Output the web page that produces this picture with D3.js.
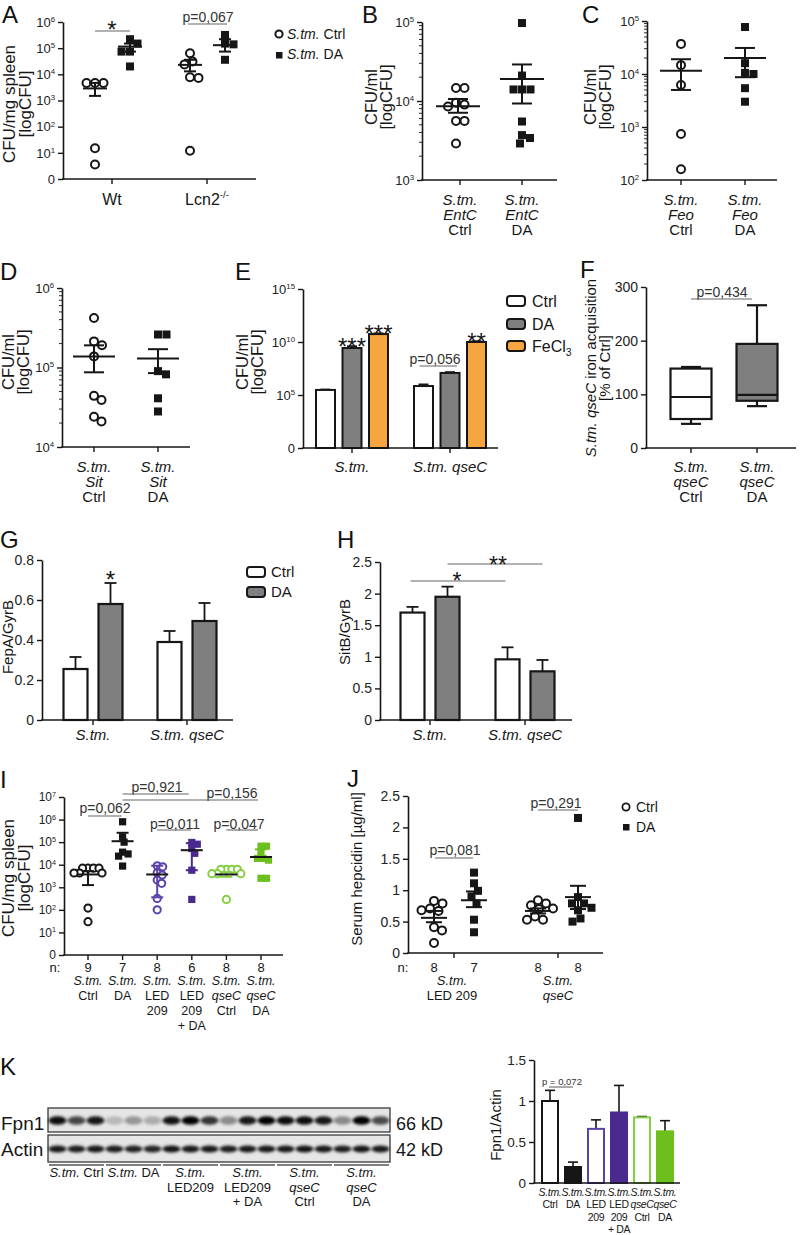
<!DOCTYPE html>
<html><head><meta charset="utf-8">
<script src="https://cdn.jsdelivr.net/npm/d3@7"></script>
<style>html,body{margin:0;padding:0;background:#fff}svg{display:block}</style>
</head><body>
<svg id="chart" width="800" height="1235" font-family="Liberation Sans, Arial, Helvetica, sans-serif"></svg>
<script>
// ===================== DATA =====================
// A
const aCats = ["Wt", "Lcn2"];
const aCtrl = [[4700, 4700, 4700, 15, 3.6], [64000, 31000, 24000, 7700, 7300, 12]];
const aDA = [[220000, 150000, 74000, 74000, 20000], [320000, 150000, 140000, 36000]];
const aCtrlStat = [[2900, 1500, 4700], [23000, 13000, 36000]]; // mean, low, high
const aDAStat = [[115000, 74000, 150000], [130000, 74000, 220000]];
// B
const bCats = ["Ctrl", "DA"];
const bCtrl = [14600, 14600, 9500, 9000, 8500, 5600, 5600, 2900];
const bDA = [97000, 21000, 14000, 14000, 14000, 5500, 3700, 3400, 2900];
const bStat = [[8600, 7100, 10600], [19000, 9300, 29000]];
// C
const cCats = ["Ctrl", "DA"];
const cCtrl = [37000, 14700, 6200, 740, 160];
const cDA = [77000, 16000, 10500, 10000, 5400, 3000];
const cStat = [[11500, 5000, 19000], [20000, 8700, 31000]];
// D
const dCats = ["Ctrl", "DA"];
const dCtrl = [420000, 213000, 190000, 138000, 44000, 39000, 24000, 21000];
const dDA = [260000, 260000, 90000, 82000, 41000, 28000];
const dStat = [[138000, 87000, 190000], [130000, 85000, 170000]];
// E
const eGroups = ["S.tm.", "S.tm. qseC"];
const eSeries = ["Ctrl", "DA", "FeCl3"];
const eVals = [[3e5, 2.7e9, 5.6e10], [7e5, 1.2e7, 1e10]];
const eErrTop = [[3.3e5, 4e9, 6.5e10], [1e6, 1.45e7, 1.2e10]];
const eStars = [["", "***", "***"], ["", "", "**"]];
// F  (min, q1, median, q3, max)
const fCats = ["Ctrl", "DA"];
const fBox = [[45, 54, 95, 148, 151], [78, 88, 99, 194, 266]];
// G
const gGroups = ["S.tm.", "S.tm. qseC"];
const gSeries = ["Ctrl", "DA"];
const gVals = [[0.255, 0.58], [0.39, 0.495]];
const gSem = [[0.06, 0.105], [0.055, 0.09]];
// H
const hVals = [[1.7, 1.95], [0.96, 0.77]];
const hSem = [[0.09, 0.16], [0.19, 0.18]];
// I
const iCats = ["Ctrl", "DA", "LED", "LED+DA", "qseC Ctrl", "qseC DA"];
const iN = [9, 7, 8, 6, 8, 8];
const iLabels = [
  [[["S.tm.", "i"]], ["Ctrl"]],
  [[["S.tm.", "i"]], ["DA"]],
  [[["S.tm.", "i"]], ["LED"], ["209"]],
  [[["S.tm.", "i"]], ["LED"], ["209"], ["+ DA"]],
  [[["S.tm.", "i"]], [["qseC", "i"]], ["Ctrl"]],
  [[["S.tm.", "i"]], [["qseC", "i"]], ["DA"]]
];
const iVals = [
  [7000, 7000, 7000, 7000, 4300, 4300, 4300, 120, 30],
  [800000, 170000, 100000, 36000, 30000, 24000, 8700],
  [9000, 8100, 4400, 3500, 2100, 1500, 320, 100],
  [97000, 81000, 52000, 32000, 5700, 290],
  [6300, 6300, 6300, 6300, 4000, 4000, 4000, 290],
  [66000, 66000, 32000, 19000, 19000, 16000, 2500, 2500]
];
const iStat = [[3700, 1250, 5200], [110000, null, 260000], [3700, 360, 9000],
               [44000, 5700, 90000], [3700, 2900, 4700], [22000, null, 48000]];
// J
const jGroups = ["LED 209", "qseC"];
const jN = [[8, 7], [8, 8]];
const jCtrl = [[0.83, 0.79, 0.71, 0.68, 0.67, 0.41, 0.36, 0.16], [0.84, 0.79, 0.76, 0.71, 0.70, 0.58, 0.53, 0.53]];
const jDA = [[1.28, 1.11, 0.99, 0.90, 0.79, 0.53, 0.33], [2.15, 0.89, 0.79, 0.79, 0.72, 0.68, 0.55, 0.50]];
const jCtrlStat = [[0.56, 0.49, 0.67], [0.67, 0.63, 0.71]];
const jDAStat = [[0.84, 0.73, 0.98], [0.89, 0.70, 1.07]];
// K
const kFpn = [0.95, 0.7, 0.9, 0.2, 0.35, 0.25, 0.92, 1.0, 0.78, 0.4, 0.9, 1.0, 0.95, 0.95, 0.9, 0.4, 1.0, 0.68];
const kActin = [0.9, 0.88, 0.9, 0.88, 0.86, 0.85, 0.92, 0.9, 0.9, 0.88, 0.9, 0.9, 0.9, 0.92, 0.9, 0.88, 0.92, 0.9];
const kBlotLabels = [
  [[["S.tm.", "i"], [" Ctrl", ""]]],
  [[["S.tm.", "i"], [" DA", ""]]],
  [[["S.tm.", "i"]], ["LED209"]],
  [[["S.tm.", "i"]], ["LED209"], ["+ DA"]],
  [[["S.tm.", "i"]], [["qseC", "i"]], ["Ctrl"]],
  [[["S.tm.", "i"]], [["qseC", "i"]], ["DA"]]
];
const kVals = [1.0, 0.195, 0.66, 0.86, 0.80, 0.63];
const kSem = [0.13, 0.06, 0.11, 0.33, 0.01, 0.13];

// ===================== HELPERS =====================
const svg = d3.select("#chart");
svg.append("rect").attr("width", 800).attr("height", 1235).attr("fill", "#fff");
const INK = "#161616", GRAY = "#7f7f7f", ORANGE = "#f7a540";
const PURPLE = "#4a2a8e", PURPLE_L = "#5a43ab", GREEN = "#6cbf1c", GREEN_L = "#86cf45";
const FONT = "Liberation Sans, Arial, Helvetica, sans-serif";

const defs = svg.append("defs");
defs.append("filter").attr("id", "blur").attr("x", "-50%").attr("y", "-100%")
  .attr("width", "200%").attr("height", "300%")
  .append("feGaussianBlur").attr("stdDeviation", 1.6);

function addText(g, x, y, parts, o = {}) {
  const size = o.size || 14;
  const t = g.append("text").attr("x", x).attr("y", y).attr("font-size", size)
    .attr("text-anchor", o.anchor || "middle").attr("fill", o.fill || INK);
  if (o.rotate != null) t.attr("transform", `rotate(${o.rotate},${x},${y})`);
  if (o.ls != null) t.attr("letter-spacing", o.ls);
  if (typeof parts === "string") parts = [[parts, ""]];
  let shift = 0;
  parts.forEach(p => {
    const [s, st] = Array.isArray(p) ? p : [p, ""];
    const sp = t.append("tspan").text(s);
    if (st.includes("i")) sp.attr("font-style", "italic");
    if (st.includes("sup")) { sp.attr("font-size", size * 0.6).attr("dy", -size * 0.42); shift = size * 0.42; }
    else if (st.includes("sub")) { sp.attr("font-size", size * 0.65).attr("dy", size * 0.22); shift = -size * 0.22; }
    else if (shift) { sp.attr("dy", shift); shift = 0; }
  });
  return t;
}
function multi(g, x, y, arr, gap, o) { arr.forEach((ln, i) => addText(g, x, y + i * gap, ln, o)); }
function panelLabel(x, y, s) { addText(svg, x, y, s, { size: 24, anchor: "start", fill: "#111" }); }
function vTitle(g, xs, y, arr, size) { arr.forEach((ln, i) => addText(g, xs[i], y, ln, { size, rotate: -90 })); }
// star text whose glyph bottom sits at yBottom
function stars(g, x, yBottom, s, size = 24) { addText(g, x, yBottom + size * 0.42, s, { size }); }

function logFmt(t, d) {
  if (d === 1) { t.text("0"); return; }
  t.append("tspan").text("10");
  t.append("tspan").attr("dy", "-0.6em").attr("font-size", "0.6em").text(Math.round(Math.log10(d)));
}
function numFmt(t, d) { t.text(String(d)); }

function yAxis(g, x, scale, vals, fmt, size = 13) {
  const ax = d3.axisLeft(scale).tickValues(vals).tickSize(5).tickSizeOuter(0).tickPadding(3);
  const a = g.append("g").attr("transform", `translate(${x},0)`).call(ax)
    .attr("font-family", FONT).attr("font-size", size);
  a.select(".domain").attr("stroke", INK).attr("stroke-width", 1.6);
  a.selectAll(".tick line").attr("stroke", INK).attr("stroke-width", 1.4);
  a.selectAll(".tick text").attr("fill", "#222").each(function (d) { const t = d3.select(this); t.text(null); fmt(t, d); });
  return a;
}
function minorTicks(g, x, scale) {
  const [lo, hi] = scale.domain();
  const vals = [];
  for (let e = Math.round(Math.log10(lo)); e < Math.round(Math.log10(hi)); e++)
    for (let m = 2; m <= 9; m++) vals.push(m * Math.pow(10, e));
  g.append("g").selectAll("line").data(vals).join("line")
    .attr("x1", x - 3).attr("x2", x).attr("y1", d => scale(d)).attr("y2", d => scale(d))
    .attr("stroke", INK).attr("stroke-width", 0.9);
}
function xAxisLine(g, y, x0, x1, ticks) {
  g.append("line").attr("x1", x0 - 0.8).attr("x2", x1).attr("y1", y).attr("y2", y)
    .attr("stroke", INK).attr("stroke-width", 1.6);
  g.append("g").selectAll("line").data(ticks).join("line")
    .attr("x1", d => d).attr("x2", d => d).attr("y1", y).attr("y2", y + 5)
    .attr("stroke", INK).attr("stroke-width", 1.4);
}
function drawPoints(g, vals, ys, cx, shape, color, dmin = 8.5, r = 4) {
  const pts = vals.map(v => ({ v, y: ys(v) })).sort((a, b) => a.y - b.y);
  const placed = [];
  pts.forEach(p => {
    for (let k = 0; k < 400; k++) {
      const off = (k % 2 ? 1 : -1) * Math.ceil(k / 2) * 0.5;
      if (placed.every(q => (q.dx - off) ** 2 + (q.y - p.y) ** 2 >= dmin * dmin)) { p.dx = off; break; }
    }
    placed.push(p);
  });
  if (shape === "c") {
    g.append("g").selectAll("circle").data(pts).join("circle")
      .attr("cx", d => cx + d.dx).attr("cy", d => d.y).attr("r", r)
      .attr("fill", "#fff").attr("stroke", color).attr("stroke-width", 2);
  } else {
    g.append("g").selectAll("rect").data(pts).join("rect")
      .attr("x", d => cx + d.dx - r).attr("y", d => d.y - r).attr("width", 2 * r).attr("height", 2 * r)
      .attr("fill", color);
  }
}
function meanBar(g, cx, ys, st, half, cap, color = INK, ecolor = INK, sw = 2) {
  const [m, lo, hi] = st;
  const ln = (x1, x2, y1, y2, c) => g.append("line").attr("x1", x1).attr("x2", x2).attr("y1", y1).attr("y2", y2)
    .attr("stroke", c).attr("stroke-width", sw);
  [hi, lo].forEach(v => {
    if (v == null) return;
    ln(cx, cx, ys(m), ys(v), ecolor);
    ln(cx - cap, cx + cap, ys(v), ys(v), ecolor);
  });
  ln(cx - half, cx + half, ys(m), ys(m), color);
}
function bar(g, cx, w, ys, v, base, fill, stroke, sw = 2) {
  g.append("rect").attr("x", cx - w / 2).attr("y", ys(v)).attr("width", w).attr("height", base - ys(v))
    .attr("fill", fill).attr("stroke", stroke).attr("stroke-width", sw);
}
function errUp(g, cx, ys, v, top, cap, color = INK, sw = 1.8) {
  g.append("line").attr("x1", cx).attr("x2", cx).attr("y1", ys(v)).attr("y2", ys(top)).attr("stroke", color).attr("stroke-width", sw);
  g.append("line").attr("x1", cx - cap).attr("x2", cx + cap).attr("y1", ys(top)).attr("y2", ys(top)).attr("stroke", color).attr("stroke-width", sw);
}
function pnote(g, cx, y, txt, x1, x2, ly, size = 14) {
  addText(g, cx, y, txt, { size, fill: "#333" });
  g.append("line").attr("x1", x1).attr("x2", x2).attr("y1", ly).attr("y2", ly).attr("stroke", "#666").attr("stroke-width", 1.1);
}
function sigLine(g, x1, x2, y) {
  g.append("line").attr("x1", x1).attr("x2", x2).attr("y1", y).attr("y2", y).attr("stroke", "#666").attr("stroke-width", 1.1);
}
function legendBox(g, x, y, fill) {
  g.append("rect").attr("x", x).attr("y", y).attr("width", 18).attr("height", 10).attr("rx", 3)
    .attr("fill", fill).attr("stroke", INK).attr("stroke-width", 2);
}

// ===================== PANEL A =====================
{
  const g = svg.append("g");
  panelLabel(2, 23, "A");
  const y = d3.scaleLog().domain([1, 1e6]).range([179, 22]);
  const x = d3.scalePoint().domain(aCats).range([112, 207]);
  yAxis(g, 63, y, [1, 10, 100, 1e3, 1e4, 1e5, 1e6], logFmt, 13);
  xAxisLine(g, 179, 63, 256, aCats.map(x));
  addText(g, x("Wt"), 205, "Wt", { size: 16 });
  addText(g, x("Lcn2"), 205, [["Lcn2", ""], ["-/-", "sup"]], { size: 16 });
  vTitle(g, [15, 31], 104, [["CFU/mg spleen"], ["[logCFU]"]], 17);
  aCats.forEach((c, i) => {
    drawPoints(g, aCtrl[i], y, x(c) - 17, "c", INK);
    drawPoints(g, aDA[i], y, x(c) + 18, "s", INK);
    meanBar(g, x(c) - 17, y, aCtrlStat[i], 12, 6);
    meanBar(g, x(c) + 18, y, aDAStat[i], 12, 6);
  });
  sigLine(g, x("Wt") - 17, x("Wt") + 18, 31);
  stars(g, x("Wt"), 28, "*", 24);
  pnote(g, x("Lcn2") + 1, 22, "p=0,067", x("Lcn2") - 19, x("Lcn2") + 20, 24, 14);
  // legend
  g.append("circle").attr("cx", 279).attr("cy", 34).attr("r", 3.6).attr("fill", "#fff").attr("stroke", INK).attr("stroke-width", 2);
  addText(g, 287, 39, [["S.tm.", "i"], [" Ctrl", ""]], { size: 14, anchor: "start" });
  g.append("rect").attr("x", 276).attr("y", 52).attr("width", 6.5).attr("height", 6.5).attr("fill", INK);
  addText(g, 287, 59, [["S.tm.", "i"], [" DA", ""]], { size: 14, anchor: "start" });
}

// ===================== PANEL B =====================
{
  const g = svg.append("g");
  panelLabel(362, 23, "B");
  const y = d3.scaleLog().domain([1e3, 1e5]).range([180, 22]);
  const x = d3.scalePoint().domain(bCats).range([460, 522]);
  minorTicks(g, 422, y);
  yAxis(g, 422, y, [1e3, 1e4, 1e5], logFmt, 13);
  xAxisLine(g, 180, 422, 557, bCats.map(x));
  bCats.forEach(c => multi(g, x(c), 205, [[["S.tm.", "i"]], [["EntC", "i"]], [c]], 15, { size: 15 }));
  vTitle(g, [377, 392], 97, [["CFU/ml"], ["[logCFU]"]], 16.5);
  drawPoints(g, bCtrl, y, x("Ctrl") - 4, "c", INK);
  drawPoints(g, bDA, y, x("DA"), "s", INK);
  meanBar(g, x("Ctrl") - 2, y, bStat[0], 22, 10);
  meanBar(g, x("DA"), y, bStat[1], 22, 10);
}

// ===================== PANEL C =====================
{
  const g = svg.append("g");
  panelLabel(582, 23, "C");
  const y = d3.scaleLog().domain([1e2, 1e5]).range([180, 21]);
  const x = d3.scalePoint().domain(cCats).range([681, 745]);
  minorTicks(g, 647, y);
  yAxis(g, 647, y, [1e2, 1e3, 1e4, 1e5], logFmt, 13);
  xAxisLine(g, 180, 647, 777, cCats.map(x));
  cCats.forEach(c => multi(g, x(c), 205, [[["S.tm.", "i"]], [["Feo", "i"]], [c]], 15, { size: 15 }));
  vTitle(g, [596, 611], 97, [["CFU/ml"], ["[logCFU]"]], 16.5);
  drawPoints(g, cCtrl, y, x("Ctrl"), "c", INK);
  drawPoints(g, cDA, y, x("DA"), "s", INK);
  meanBar(g, x("Ctrl"), y, cStat[0], 21, 10);
  meanBar(g, x("DA"), y, cStat[1], 21, 10);
}

// ===================== PANEL D =====================
{
  const g = svg.append("g");
  panelLabel(0, 280, "D");
  const y = d3.scaleLog().domain([1e4, 1e6]).range([447, 288]);
  const x = d3.scalePoint().domain(dCats).range([94, 158]);
  minorTicks(g, 62, y);
  yAxis(g, 62, y, [1e4, 1e5, 1e6], logFmt, 13);
  xAxisLine(g, 447, 62, 190, dCats.map(x));
  dCats.forEach(c => multi(g, x(c), 472, [[["S.tm.", "i"]], [["Sit", "i"]], [c]], 15, { size: 15 }));
  vTitle(g, [14, 29], 362, [["CFU/ml"], ["[logCFU]"]], 16.5);
  drawPoints(g, dCtrl, y, x("Ctrl"), "c", INK);
  drawPoints(g, dDA, y, x("DA"), "s", INK);
  meanBar(g, x("Ctrl"), y, dStat[0], 21, 10);
  meanBar(g, x("DA"), y, dStat[1], 21, 10);
}

// ===================== PANEL E =====================
{
  const g = svg.append("g");
  panelLabel(235, 280, "E");
  const y = d3.scaleLog().domain([1, 1e15]).range([448, 289]);
  const x0 = d3.scalePoint().domain(eGroups).range([352, 450]);
  const x1 = d3.scalePoint().domain(eSeries).range([-26.5, 26.5]);
  const fills = { "Ctrl": "#fff", "DA": GRAY, "FeCl3": ORANGE };
  yAxis(g, 303, y, [1, 1e5, 1e10, 1e15], logFmt, 13);
  eGroups.forEach((gr, i) => eSeries.forEach((s, j) => {
    const cx = x0(gr) + x1(s);
    errUp(g, cx, y, eVals[i][j], eErrTop[i][j], 5);
    bar(g, cx, 19, y, eVals[i][j], 448, fills[s], INK, 2);
    if (eStars[i][j]) stars(g, cx, y(eErrTop[i][j]) - 1.5, eStars[i][j], 24);
  }));
  xAxisLine(g, 448, 303, 498, eGroups.map(x0));
  addText(g, x0("S.tm."), 472, [["S.tm.", "i"]], { size: 15 });
  addText(g, x0("S.tm. qseC"), 472, [["S.tm. qseC", "i"]], { size: 15 });
  vTitle(g, [248, 263], 362, [["CFU/ml"], ["[logCFU]"]], 16.5);
  pnote(g, 435, 364, "p=0,056", x0("S.tm. qseC") + x1("Ctrl") - 4, x0("S.tm. qseC") + x1("DA") + 7, 366, 14);
  // legend
  const ly = [296, 319, 341];
  eSeries.forEach((s, j) => {
    legendBox(g, 507, ly[j], fills[s]);
    addText(g, 532, ly[j] + 11, s === "FeCl3" ? [["FeCl", ""], ["3", "sub"]] : s, { size: 16, anchor: "start" });
  });
}

// ===================== PANEL F =====================
{
  const g = svg.append("g");
  panelLabel(580, 278, "F");
  const y = d3.scaleLinear().domain([0, 300]).range([448, 287]);
  const x = d3.scalePoint().domain(fCats).range([691, 757]);
  yAxis(g, 646, y, [0, 100, 200, 300], numFmt, 14);
  xAxisLine(g, 448, 646, 796, fCats.map(x));
  fCats.forEach(c => multi(g, x(c), 472, [[["S.tm.", "i"]], [["qseC", "i"]], [c]], 15, { size: 15 }));
  vTitle(g, [596, 610], 368, [[["S.tm. qseC", "i"], [" iron acquisition", ""]], ["[% of Ctrl]"]], 15);
  const fills = ["#fff", GRAY];
  fBox.forEach((b, i) => {
    const [mn, q1, md, q3, mx] = b, cx = x(fCats[i]), w = 41;
    const ln = (x1, x2, y1, y2) => g.append("line").attr("x1", x1).attr("x2", x2).attr("y1", y1).attr("y2", y2).attr("stroke", INK).attr("stroke-width", 2.2);
    ln(cx, cx, y(q1), y(mn)); ln(cx, cx, y(q3), y(mx));
    ln(cx - 10, cx + 10, y(mn), y(mn)); ln(cx - 10, cx + 10, y(mx), y(mx));
    g.append("rect").attr("x", cx - w / 2).attr("y", y(q3)).attr("width", w).attr("height", y(q1) - y(q3))
      .attr("fill", fills[i]).attr("stroke", INK).attr("stroke-width", 2.2);
    ln(cx - w / 2, cx + w / 2, y(md), y(md));
  });
  pnote(g, 722, 297, "p=0,434", 691, 752, 299, 14);
}

// ===================== PANEL G =====================
{
  const g = svg.append("g");
  panelLabel(0, 548, "G");
  const y = d3.scaleLinear().domain([0, 0.8]).range([720, 560]);
  const x0 = d3.scalePoint().domain(gGroups).range([93, 187]);
  const x1 = d3.scalePoint().domain(gSeries).range([-17.5, 17.5]);
  const fills = ["#fff", GRAY];
  yAxis(g, 42, y, [0, 0.2, 0.4, 0.6, 0.8], numFmt, 14);
  gGroups.forEach((gr, i) => gSeries.forEach((s, j) => {
    const cx = x0(gr) + x1(s);
    errUp(g, cx, y, gVals[i][j], gVals[i][j] + gSem[i][j], 6);
    bar(g, cx, 24, y, gVals[i][j], 720, fills[j], INK, 2.2);
  }));
  xAxisLine(g, 720, 42, 233, gGroups.map(x0));
  gGroups.forEach(gr => addText(g, x0(gr), 740, [[gr, "i"]], { size: 15 }));
  vTitle(g, [13], 637, [["FepA/GyrB"]], 15);
  stars(g, x0("S.tm.") + x1("DA"), 578, "*", 24);
  gSeries.forEach((s, j) => {
    legendBox(g, 247, [567, 587][j], fills[j]);
    addText(g, 271, [577, 597][j], s, { size: 15, anchor: "start" });
  });
}

// ===================== PANEL H =====================
{
  const g = svg.append("g");
  panelLabel(337, 548, "H");
  const y = d3.scaleLinear().domain([0, 2.5]).range([720, 562]);
  const x0 = d3.scalePoint().domain(gGroups).range([430, 525]);
  const x1 = d3.scalePoint().domain(gSeries).range([-17.5, 17.5]);
  const fills = ["#fff", GRAY];
  yAxis(g, 380, y, [0, 0.5, 1, 1.5, 2, 2.5], numFmt, 14);
  gGroups.forEach((gr, i) => gSeries.forEach((s, j) => {
    const cx = x0(gr) + x1(s);
    errUp(g, cx, y, hVals[i][j], hVals[i][j] + hSem[i][j], 6);
    bar(g, cx, 24, y, hVals[i][j], 720, fills[j], INK, 2.2);
  }));
  xAxisLine(g, 720, 380, 572, gGroups.map(x0));
  gGroups.forEach(gr => addText(g, x0(gr), 740, [[gr, "i"]], { size: 15 }));
  vTitle(g, [350], 632, [["SitB/GyrB"]], 15);
  sigLine(g, x0("S.tm.") + x1("Ctrl") - 2, x0("S.tm. qseC") + x1("Ctrl") - 2, 581);
  stars(g, 457, 579, "*", 23);
  sigLine(g, x0("S.tm.") + x1("DA"), x0("S.tm. qseC") + x1("DA"), 564);
  stars(g, 498, 563, "**", 23);
}

// ===================== PANEL I =====================
{
  const g = svg.append("g");
  panelLabel(0, 788, "I");
  const y = d3.scaleLog().domain([1, 1e7]).range([955, 797]);
  const x = d3.scalePoint().domain(iCats).range([88, 261]);
  yAxis(g, 64, y, [1, 10, 100, 1e3, 1e4, 1e5, 1e6, 1e7], logFmt, 12);
  xAxisLine(g, 955, 64, 283, iCats.map(x));
  vTitle(g, [14, 30], 878, [["CFU/mg spleen"], ["[logCFU]"]], 17);
  const cols = [INK, INK, PURPLE_L, PURPLE, GREEN_L, GREEN];
  const shapes = ["c", "s", "c", "s", "c", "s"];
  iCats.forEach((c, i) => {
    drawPoints(g, iVals[i], y, x(c), shapes[i], cols[i], 5.4, 3.6);
    meanBar(g, x(c), y, iStat[i], 11, 6, INK, cols[i]);
  });
  addText(g, 55, 972, "n:", { size: 13 });
  iCats.forEach((c, i) => {
    addText(g, x(c), 972, String(iN[i]), { size: 13 });
    multi(g, x(c), 985, iLabels[i], 15, { size: 12.5 });
  });
  pnote(g, 105, 813, "p=0,062", x(iCats[0]), x(iCats[1]) - 1, 816, 14);
  pnote(g, 157, 792, "p=0,921", x(iCats[1]), x(iCats[3]) - 3, 794, 14);
  pnote(g, 232, 798, "p=0,156", x(iCats[1]), x(iCats[5]) - 3, 800, 14);
  pnote(g, 175, 829, "p=0,011", x(iCats[2]), x(iCats[3]) - 1, 830, 14);
  pnote(g, 239, 829, "p=0,047", x(iCats[4]), x(iCats[5]) - 3, 830, 14);
}

// ===================== PANEL J =====================
{
  const g = svg.append("g");
  panelLabel(347, 787, "J");
  const y = d3.scaleLinear().domain([0, 2.5]).range([953, 796]);
  const x = d3.scalePoint().domain(jGroups).range([454, 558]);
  yAxis(g, 408, y, [0, 0.5, 1, 1.5, 2, 2.5], numFmt, 14);
  xAxisLine(g, 953, 408, 603, jGroups.map(x));
  vTitle(g, [362], 869, [["Serum hepcidin [µg/ml]"]], 15);
  jGroups.forEach((gr, i) => {
    drawPoints(g, jCtrl[i], y, x(gr) - 20, "c", INK);
    drawPoints(g, jDA[i], y, x(gr) + 20, "s", INK);
    meanBar(g, x(gr) - 20, y, jCtrlStat[i], 13, 8);
    meanBar(g, x(gr) + 20, y, jDAStat[i], 13, 8);
    addText(g, x(gr) - 20, 972, String(jN[i][0]), { size: 13 });
    addText(g, x(gr) + 20, 972, String(jN[i][1]), { size: 13 });
  });
  addText(g, 403, 972, "n:", { size: 13 });
  multi(g, x("LED 209") - 2, 985, [[["S.tm.", "i"]], ["LED 209"]], 15, { size: 13 });
  multi(g, x("qseC"), 985, [[["S.tm.", "i"]], [["qseC", "i"]]], 15, { size: 13 });
  pnote(g, 455, 855, "p=0,081", x("LED 209") - 19, x("LED 209") + 19, 858, 14);
  pnote(g, 556, 808, "p=0,291", x("qseC") - 20, x("qseC") + 20, 810, 14);
  g.append("circle").attr("cx", 626).attr("cy", 807).attr("r", 3.6).attr("fill", "#fff").attr("stroke", INK).attr("stroke-width", 1.8);
  addText(g, 636, 812, "Ctrl", { size: 14, anchor: "start" });
  g.append("rect").attr("x", 623).attr("y", 824).attr("width", 6.5).attr("height", 6.5).attr("fill", INK);
  addText(g, 636, 832, "DA", { size: 14, anchor: "start" });
}

// ===================== PANEL K =====================
{
  const g = svg.append("g");
  panelLabel(0, 1075, "K");
  const lane = d3.scaleBand().domain(d3.range(18)).range([48, 390]);
  const rows = [[kFpn, 1108, 1132, 4.3], [kActin, 1135, 1162, 3.4]];
  rows.forEach(([arr, t, b, ry]) => {
    g.append("rect").attr("x", 48).attr("y", t).attr("width", 342).attr("height", b - t)
      .attr("fill", "#e6e6e6").attr("stroke", "#3a3a3a").attr("stroke-width", 1.3);
    g.append("g").attr("filter", "url(#blur)").selectAll("ellipse").data(arr).join("ellipse")
      .attr("cx", (d, i) => lane(i) + lane.bandwidth() / 2).attr("cy", (t + b) / 2 + 0.5)
      .attr("rx", 9).attr("ry", ry).attr("fill", "#000").attr("opacity", d => d);
  });
  addText(g, 1, 1130, "Fpn1", { size: 19, anchor: "start" });
  addText(g, 1, 1156, "Actin", { size: 19, anchor: "start" });
  addText(g, 396, 1130, "66 kD", { size: 18, anchor: "start" });
  addText(g, 396, 1156, "42 kD", { size: 18, anchor: "start" });
  kBlotLabels.forEach((lb, k) => {
    const x1 = lane(k * 3) + 1, x2 = lane(k * 3 + 2) + lane.bandwidth() - 1;
    g.append("line").attr("x1", x1).attr("x2", x2).attr("y1", 1165).attr("y2", 1165).attr("stroke", "#555").attr("stroke-width", 1.5);
    multi(g, (x1 + x2) / 2, 1177, lb, 14.5, { size: 13 });
  });

  // bar chart
  const y = d3.scaleLinear().domain([0, 1.5]).range([1183, 1060]);
  const x = d3.scalePoint().domain(d3.range(6)).range([550, 665]);
  yAxis(g, 534, y, [0, 0.5, 1, 1.5], numFmt, 13.5);
  const fills = ["#fff", INK, "#fff", PURPLE, "#fff", GREEN];
  const strokes = [INK, INK, PURPLE_L, PURPLE, GREEN_L, GREEN];
  kVals.forEach((v, i) => {
    errUp(g, x(i), y, v, v + kSem[i], 5, INK, 1.6);
    bar(g, x(i), 16, y, v, 1183, fills[i], strokes[i], 2);
  });
  xAxisLine(g, 1183, 534, 680, []);
  vTitle(g, [501], 1125, [["Fpn1/Actin"]], 15);
  pnote(g, 562, 1085, "p = 0,072", x(0) - 1, x(1), 1087, 9.5);
  iLabels.forEach((lb, i) => multi(g, x(i), 1196, lb, 12.4, { size: 10.5, ls: -0.35 }));
}
</script>
</body></html>
